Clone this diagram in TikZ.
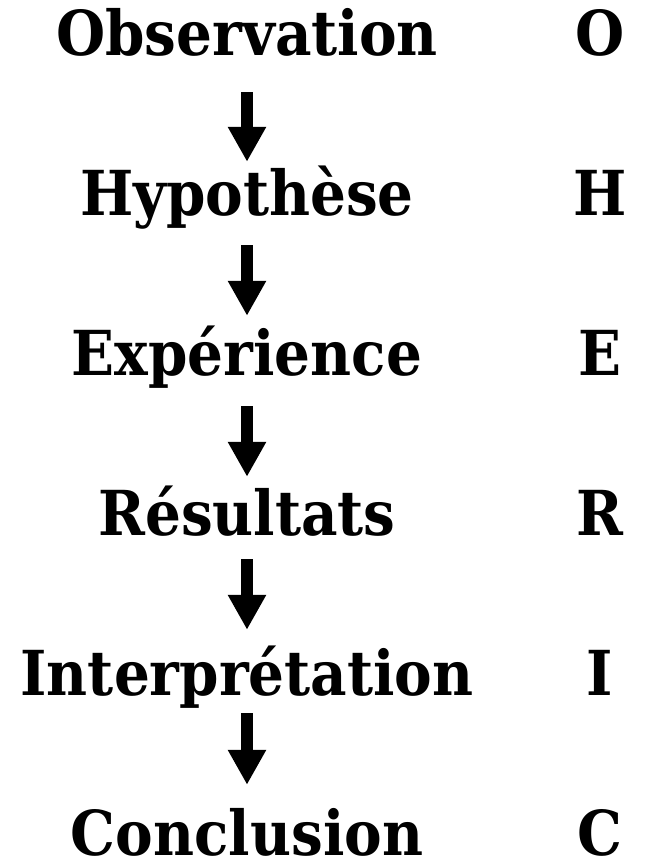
\documentclass[tikz,border=0pt]{standalone}
\usepackage{fontspec}
\setmainfont{DejaVu Serif}[FakeStretch=0.91]
\usetikzlibrary{arrows.meta}

\begin{document}
\begin{tikzpicture}[x=1pt,y=-1pt,
  stage/.style={font=\bfseries\fontsize{62}{62}\selectfont,inner sep=0pt,anchor=base,text height=46pt,text depth=4pt},
  arr/.style={-{Triangle[length=35pt,width=36pt]},line width=12pt}
]
  \useasboundingbox (0,0) rectangle (653,861);
  % steps of the method
  \node[stage] (obs) at (247,56) {Observation};
  \node[stage] (hyp) at (247,215) {Hypothèse};
  \node[stage] (exp) at (247,375) {Expérience};
  \node[stage] (res) at (247,535) {Résultats};
  \node[stage] (int) at (247,695) {Interprétation};
  \node[stage] (con) at (247,855) {Conclusion};
  % initials
  \node[stage] (o) at (600,56) {O};
  \node[stage] (h) at (600,215) {H};
  \node[stage] (e) at (600,375) {E};
  \node[stage] (r) at (600,535) {R};
  \node[stage] (i) at (600,695) {I};
  \node[stage] (c) at (600,855) {C};
  \draw[arr,shorten <=32pt,shorten >=7pt] (obs.south) -- (hyp.north);
  \draw[arr,shorten <=26pt,shorten >=13pt] (hyp.south) -- (exp.north);
  \draw[arr,shorten <=27pt,shorten >=12pt] (exp.south) -- (res.north);
  \draw[arr,shorten <=20pt,shorten >=19pt] (res.south) -- (int.north);
  \draw[arr,shorten <=14pt,shorten >=24pt] (int.south) -- (con.north);
\end{tikzpicture}
\end{document}
